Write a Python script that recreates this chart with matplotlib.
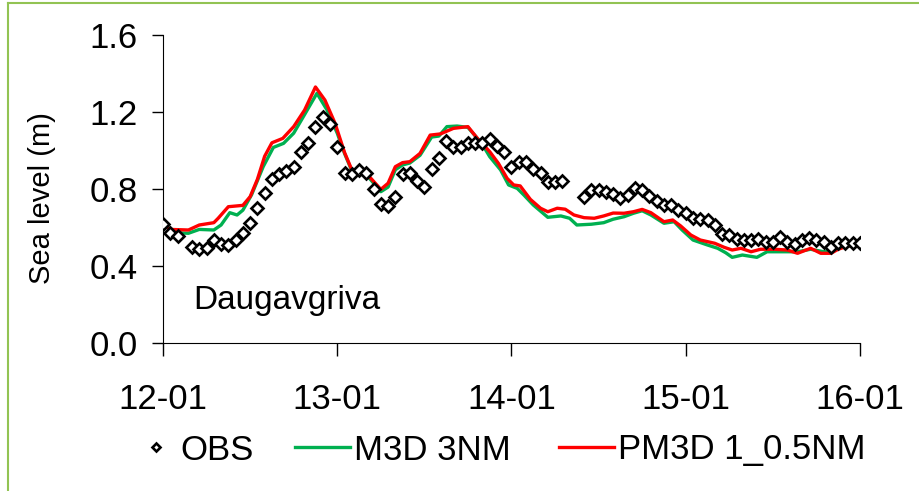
import numpy as np
import matplotlib
matplotlib.use("Agg")
import matplotlib.pyplot as plt
from matplotlib.lines import Line2D

plt.rcParams["font.family"] = ["Liberation Sans", "DejaVu Sans"]

# hours since 12-01 00:00
date_labels = ["12-01", "13-01", "14-01", "15-01", "16-01"]
date_hours = [0, 24, 48, 72, 96]

nan = np.nan
# hourly observations (nan = missing)
obs = [0.62, 0.573, 0.556, nan, 0.50, 0.488, 0.492, 0.535, 0.513, 0.509,
       0.535, 0.570, 0.622, 0.70, 0.778, 0.85, 0.878, 0.894, 0.913, 0.994,
       1.037, 1.124, 1.176, 1.137, 1.02, 0.882, 0.878, 0.899, 0.883, 0.798,
       0.722, 0.712, 0.757, 0.878, 0.885, 0.842, 0.812, 0.902, 0.959, 1.051,
       1.016, 1.016, 1.037, 1.04, 1.037, 1.058, 1.023, 0.994, 0.916, 0.942,
       0.942, 0.902, 0.882, 0.838, 0.838, 0.843, nan, nan, 0.757, 0.795,
       0.795, 0.786, 0.775, 0.751, 0.769, 0.803, 0.795, 0.764, 0.739, 0.717,
       0.717, 0.691, 0.674, 0.648, 0.643, 0.639, 0.613, 0.565, 0.56, 0.539,
       0.535, 0.535, 0.539, 0.526, 0.526, 0.552, 0.526, 0.514, 0.535, 0.544,
       0.535, 0.526, 0.50, 0.518, 0.518, 0.518, 0.518]
obs_hours = list(range(len(obs)))

m3d_hours = [0, 1.7, 3.5, 5, 7, 8, 9.2, 10.2, 11, 12.2, 13.8, 15.2, 16.6, 18,
             19.6, 21.2, 22.6, 24, 25, 26, 27, 28, 30, 31, 32, 33, 34, 35.4,
             37, 38, 39.1, 40.5, 42, 43.9, 45, 46.5, 47.6, 48.8, 49.7, 51, 53,
             54.8, 56, 57, 59, 60.7, 62, 63.5, 64.8, 66, 67.2, 69, 70.4, 71.5,
             73, 75, 76.4, 77.5, 78.4, 79.8, 81.8, 83.2, 85, 87.4, 89.2, 91,
             92.5, 93.8, 96]
m3d = [0.62, 0.573, 0.57, 0.59, 0.587, 0.613, 0.677, 0.665, 0.69, 0.77, 0.916,
       1.016, 1.037, 1.09, 1.193, 1.297, 1.21, 1.09, 0.985, 0.895, 0.89, 0.875,
       0.786, 0.81, 0.90, 0.925, 0.935, 0.975, 1.07, 1.075, 1.124, 1.127,
       1.12, 1.037, 0.968, 0.899, 0.821, 0.803, 0.769, 0.717, 0.653, 0.66,
       0.648, 0.613, 0.617, 0.625, 0.643, 0.656, 0.674, 0.687, 0.665, 0.622,
       0.63, 0.587, 0.535, 0.509, 0.492, 0.469, 0.445, 0.457, 0.445, 0.474,
       0.474, 0.474, 0.487, 0.474, 0.483, 0.50, 0.514]

pm3d_hours = [0, 1, 3.5, 5, 7, 7.6, 9, 11, 12, 13, 14, 15, 16.5, 18, 19.5, 21,
              22.3, 23.7, 25, 26, 27, 28, 30, 31, 32, 33, 34, 35.4, 36.8, 38.2,
              40, 42, 43.3, 45, 46.2, 47.4, 48.3, 49.2, 50.6, 52, 53, 54.3,
              55.4, 56.6, 58, 59.4, 60.7, 62, 63.5, 64.8, 66, 67.2, 69, 70.2,
              71.3, 72.7, 74, 76, 77.3, 78.4, 79.6, 81, 82.3, 84.2, 86, 87.4,
              89.2, 90.6, 92, 93, 94.3, 96]
pm3d = [0.62, 0.59, 0.587, 0.613, 0.625, 0.648, 0.708, 0.715, 0.76, 0.85, 0.97,
        1.04, 1.063, 1.124, 1.21, 1.33, 1.262, 1.141, 0.99, 0.90, 0.899, 0.882,
        0.798, 0.83, 0.916, 0.937, 0.942, 0.985, 1.08, 1.086, 1.115, 1.124,
        1.063, 0.994, 0.933, 0.855, 0.821, 0.816, 0.746, 0.70, 0.682, 0.70,
        0.695, 0.665, 0.651, 0.648, 0.66, 0.675, 0.674, 0.682, 0.694, 0.677,
        0.63, 0.639, 0.608, 0.561, 0.535, 0.518, 0.497, 0.483, 0.492, 0.474,
        0.487, 0.487, 0.483, 0.466, 0.492, 0.466, 0.466, 0.487, 0.504, 0.514]

fig = plt.figure(figsize=(9.2, 4.91), dpi=100)
ax = fig.add_axes([163 / 920, 1 - 343 / 491, 697 / 920, 308 / 491])

ln_m3d, = ax.plot(m3d_hours, m3d, color="#00B050", lw=2.4, label="M3D 3NM")
ln_pm3d, = ax.plot(pm3d_hours, pm3d, color="#FF0000", lw=2.4, label="PM3D 1_0.5NM")
ln_obs, = ax.plot(obs_hours, obs, ls="none", marker="D", ms=6.5, mfc="white",
                  mec="black", mew=1.9, label="OBS", zorder=3)

ax.set_xlim(0, 96)
ax.set_ylim(0, 1.6)
ax.set_xticks(date_hours)
ax.set_xticklabels(date_labels)
ax.set_yticks([0, 0.4, 0.8, 1.2, 1.6])
ax.set_yticklabels(["0.0", "0.4", "0.8", "1.2", "1.6"])
ax.tick_params(direction="out", width=1, labelsize=25)
ax.tick_params(axis="x", length=9, pad=20)
ax.tick_params(axis="y", length=8, pad=10)
ax.spines["top"].set_visible(False)
ax.spines["right"].set_visible(False)
ax.set_facecolor("none")

ax.text(4.1, 0.22, "Daugavgriva", fontsize=24, va="center", ha="left")
fig.text(42 / 920, 1 - 198 / 491, "Sea level (m)", rotation=90,
         fontsize=21, va="center", ha="center")

# legend: OBS with a short handle, lines with longer handles
leg1 = fig.legend([ln_obs], ["OBS"], loc="center",
                  bbox_to_anchor=(200 / 920, 1 - 450 / 491), frameon=False,
                  fontsize=25, handlelength=0.6, handletextpad=0.4,
                  markerscale=0.6)
fig.legend([ln_m3d, ln_pm3d], ["M3D 3NM", "PM3D 1_0.5NM"], loc="center",
           bbox_to_anchor=(580 / 920, 1 - 450 / 491), ncol=2, frameon=False,
           fontsize=25, handlelength=1.6, handletextpad=0.1,
           columnspacing=1.4)

# green frame lines (left and top)
fig.add_artist(Line2D([8 / 920, 8 / 920], [0, 1 - 3 / 491],
                      transform=fig.transFigure, color="#92C353", lw=1.5))
fig.add_artist(Line2D([8 / 920, 1], [1 - 3 / 491, 1 - 3 / 491],
                      transform=fig.transFigure, color="#92C353", lw=1.5))

fig.savefig("out.png", dpi=100)
